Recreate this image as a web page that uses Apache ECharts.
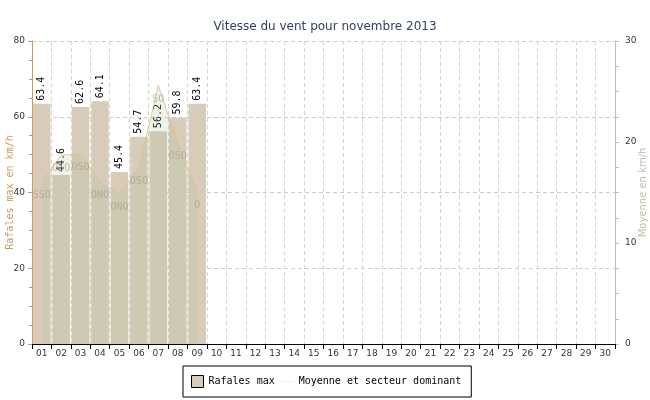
<!DOCTYPE html>
<html><head><meta charset="utf-8">
<script src="https://cdn.jsdelivr.net/npm/echarts@6/dist/echarts.min.js"></script>
<style>html,body{margin:0;padding:0;background:#fff}#c{width:650px;height:400px}</style>
</head><body><div id="c"></div>
<script>
const days = ['01','02','03','04','05','06','07','08','09','10','11','12','13','14','15','16','17','18','19','20','21','22','23','24','25','26','27','28','29','30'];
const gusts = [63.4, 44.6, 62.6, 64.1, 45.4, 54.7, 56.2, 59.8, 63.4];
const averages = [16.0, 18.7, 18.8, 16.0, 14.9, 17.4, 25.6, 19.9, 15.1];
const sectors = ['SSO','OSO','OSO','ONO','ONO','OSO','SO','OSO','O'];
const leftTicks = {min: 0, max: 80, interval: 20};
const rightTicks = {min: 0, max: 30, interval: 10};

const chart = echarts.init(document.getElementById('c'), null, {renderer: 'canvas'});
const mono = 'DejaVu Sans Mono';
chart.setOption({
  animation: false,
  backgroundColor: '#fff',
  title: {
    text: 'Vitesse du vent pour novembre 2013',
    left: 'center', top: 16,
    textStyle: {fontFamily: 'DejaVu Sans', fontSize: 12, fontWeight: 'normal', color: '#33405e'}
  },
  grid: {left: 32, right: 35, top: 41, bottom: 56, outerBoundsMode: 'none', containLabel: false},
  legend: {
    left: 183, top: 366,
    padding: [9, 10, 9, 8],
    borderColor: '#000', borderWidth: 1,
    itemWidth: 12, itemHeight: 12, itemGap: 7,
    textStyle: {fontFamily: mono, fontSize: 10, color: '#000'},
    data: [
      {name: 'Rafales max', icon: 'rect', itemStyle: {color: '#d8cbba', borderColor: '#000', borderWidth: 1}},
      {name: 'Moyenne et secteur dominant', icon: 'path://M0,0L0.01,0L0,0.01Z M0,6H20V7H0Z M0,13L0.01,13L0,12.99Z', itemStyle: {color: '#eadcc4', borderWidth: 0}}
    ]
  },
  xAxis: {
    type: 'category', data: days, boundaryGap: true,
    axisLine: {lineStyle: {color: '#000'}},
    axisTick: {show: true, length: 5, lineStyle: {color: '#000'}},
    axisLabel: {fontFamily: 'DejaVu Sans', fontSize: 9, color: '#333', margin: 5, interval: 0},
    splitLine: {show: true, lineStyle: {color: '#d4d4d4', type: [4, 3]}}
  },
  yAxis: [
    {
      type: 'value', min: leftTicks.min, max: leftTicks.max, interval: leftTicks.interval,
      name: 'Rafales max en km/h', nameLocation: 'middle', nameGap: 17, nameMoveOverlap: false,
      nameTextStyle: {fontFamily: mono, fontSize: 10, color: '#c99a5c'},
      axisLine: {show: true, lineStyle: {color: '#d09a50'}},
      axisTick: {show: true, length: 4, lineStyle: {color: '#d09a50'}},
      minorTick: {show: true, splitNumber: 4, length: 3, lineStyle: {color: '#d09a50'}},
      axisLabel: {fontFamily: 'DejaVu Sans', fontSize: 9, color: '#333', margin: 7},
      splitLine: {show: true, lineStyle: {color: '#ccc', type: [4, 3]}}
    },
    {
      type: 'value', min: rightTicks.min, max: rightTicks.max, interval: rightTicks.interval,
      position: 'right',
      name: 'Moyenne en km/h', nameLocation: 'middle', nameGap: 23, nameRotate: 90, nameMoveOverlap: false,
      nameTextStyle: {fontFamily: 'DejaVu Sans', fontSize: 10, color: '#c4bcac'},
      axisLine: {show: true, lineStyle: {color: '#c8bca6'}},
      axisTick: {show: true, length: 4, lineStyle: {color: '#c8bca6'}},
      minorTick: {show: true, splitNumber: 4, length: 4, lineStyle: {color: '#c8bca6'}},
      axisLabel: {fontFamily: 'DejaVu Sans', fontSize: 9, color: '#333', margin: 10},
      splitLine: {show: false}
    }
  ],
  series: [
    {
      name: 'Rafales max', type: 'bar', yAxisIndex: 0, data: gusts,
      barCategoryGap: '10%',
      itemStyle: {color: '#d8cbba'},
      label: {
        show: true, position: 'top', rotate: 90, align: 'left', verticalAlign: 'middle',
        distance: 3,
        fontFamily: mono, fontSize: 10, color: '#000'
      }
    },
    {
      name: 'Moyenne et secteur dominant', type: 'line', yAxisIndex: 1, data: averages,
      showSymbol: true, symbol: 'circle', symbolSize: 1,
      itemStyle: {color: 'rgba(0,0,0,0)', borderWidth: 0},
      lineStyle: {color: 'rgba(225,190,140,0.85)', width: 1},
      areaStyle: {color: 'rgba(170,192,150,0.28)', origin: 'start'},
      label: {
        show: true, position: 'bottom', distance: 8,
        formatter: p => sectors[p.dataIndex],
        fontFamily: mono, fontSize: 10, color: 'rgba(165,150,125,0.6)'
      },
      z: 3
    }
  ]
});
</script></body></html>
